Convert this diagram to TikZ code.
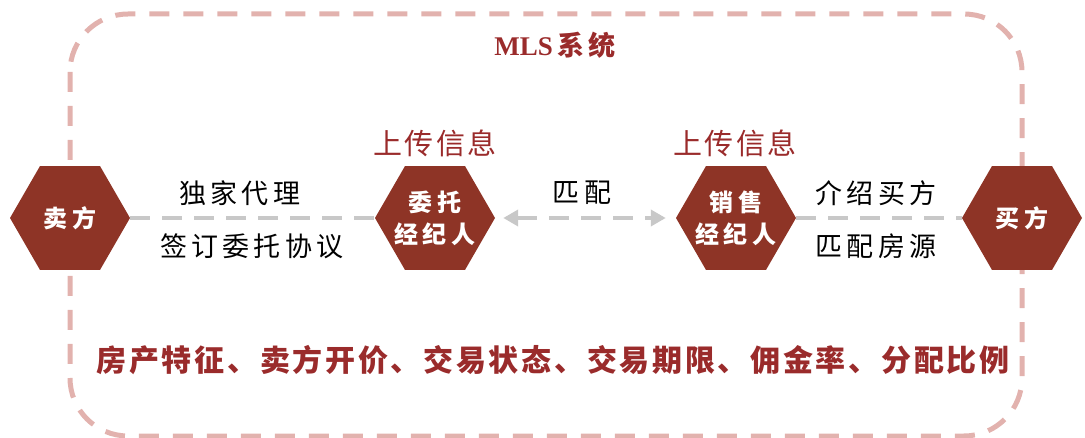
\documentclass[tikz,border=0pt]{standalone}
\usepackage{fontspec}
\setmainfont{Liberation Serif}
\newfontfamily\cjk{Noto Sans CJK SC}
\newfontfamily\cjksp[LetterSpace=15]{Noto Sans CJK SC}
\newfontfamily\cjkspb[LetterSpace=9]{Noto Sans CJK SC}
\newfontfamily\cjkhex[LetterSpace=18]{Noto Sans CJK SC}
\usetikzlibrary{shapes.geometric,arrows.meta}
\definecolor{hexred}{HTML}{8E3426}
\definecolor{labred}{HTML}{9A2B2B}
\definecolor{dashpink}{HTML}{E2B2AE}
\definecolor{linegray}{HTML}{C8C8C8}
\tikzset{
  hexnode/.style={regular polygon, regular polygon sides=6, minimum size=120pt, inner sep=0pt,
    fill=hexred, draw=none},
  hextext/.style={text=white, font=\cjkhex\bfseries\fontsize{24}{32}\selectfont, align=center, inner sep=0pt},
  conn/.style={draw=linegray, line width=4pt, dash pattern=on 20pt off 12pt},
  blacklab/.style={font=\cjksp\fontsize{27}{30}\selectfont, text=black},
  redlab/.style={font=\cjkspb\fontsize{29}{32}\selectfont, text=labred},
}
\begin{document}
\begin{tikzpicture}[x=1pt,y=1pt]
\useasboundingbox (0,0) rectangle (1085,-438);
% MLS system frame
\draw[dashpink, line width=5pt, dash pattern=on 20pt off 14pt, rounded corners=58pt]
  (70,-14) rectangle (1022,-436);
\node[font=\bfseries\fontsize{27}{30}\selectfont, text=labred] (mls) at (555,-45) {MLS\,{\cjksp\bfseries 系统}};
% hexagons
\node[hexnode] (seller) at (70,-218) {};
\node[hexnode] (agentA) at (435,-218) {};
\node[hexnode] (agentB) at (736,-218) {};
\node[hexnode] (buyer) at (1022,-218) {};
\node[hextext] (sellerT) at (seller.center) {卖方};
\node[hextext] (agentAT) at (agentA.center) {委托\\经纪人};
\node[hextext] (agentBT) at (agentB.center) {销售\\经纪人};
\node[hextext] (buyerT) at (buyer.center) {买方};
% upload labels
\node[redlab] (upA) at (435,-143) {上传信息};
\node[redlab] (upB) at (735,-143) {上传信息};
% connectors
\draw[conn] (seller.east) -- (agentA.west);
\draw[conn] (agentB.east) -- (buyer.west);
\draw[conn, {Triangle[length=15pt,width=16pt,fill=linegray]}-{Triangle[length=15pt,width=16pt,fill=linegray]}, shorten <=8pt, shorten >=10pt]
  (agentA.east) -- (agentB.west);
% connector labels
\node[blacklab] (l1) at (240,-193) {独家代理};
\node[blacklab] (l2) at (252,-246) {签订委托协议};
\node[blacklab] (l3) at (582,-193) {匹配};
\node[blacklab] (l4) at (876,-193) {介绍买方};
\node[blacklab] (l5) at (876,-246) {匹配房源};
% bottom attributes
\node[font=\cjkspb\bfseries\fontsize{30}{32}\selectfont, text=labred] (attrs) at (553,-360)
  {房产特征、卖方开价、交易状态、交易期限、佣金率、分配比例};
\end{tikzpicture}
\end{document}
